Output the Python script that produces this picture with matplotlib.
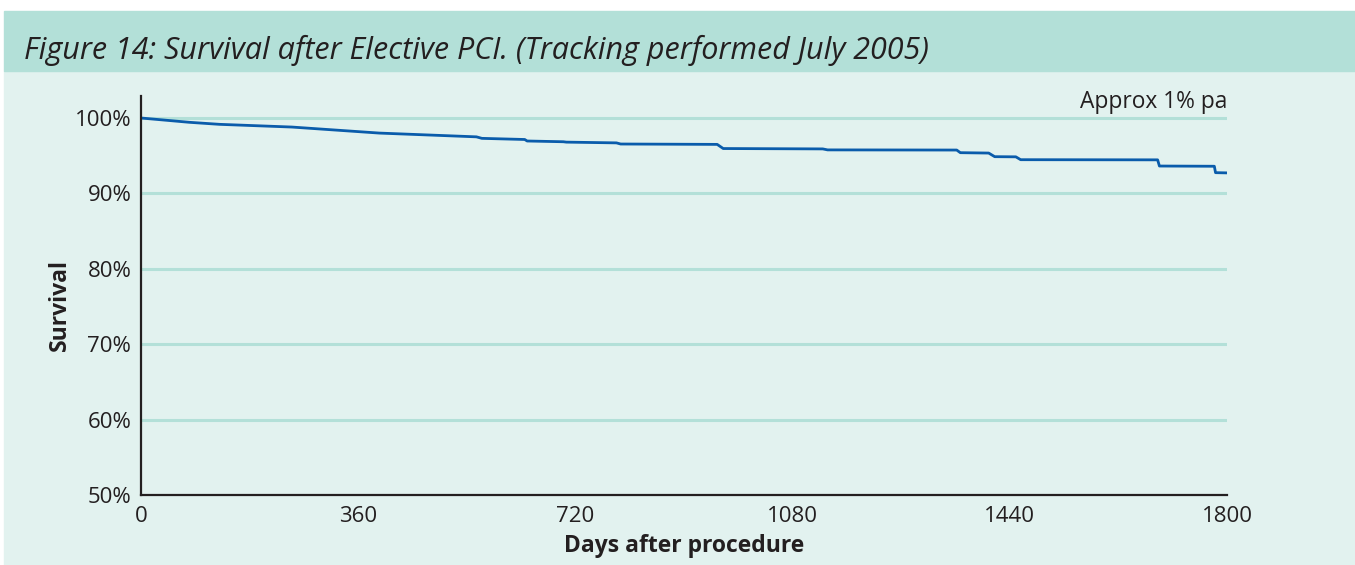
import matplotlib
matplotlib.use("Agg")
import matplotlib.pyplot as plt
from matplotlib.patches import Rectangle

# === DATA ===
days = [0, 80, 130, 250, 395, 556, 565, 636, 640, 700, 705, 788, 795,
        955, 965, 1130, 1138, 1352, 1358, 1405, 1415, 1450, 1458,
        1685, 1688, 1779, 1781, 1800]
survival = [100.0, 99.43, 99.16, 98.8, 98.0, 97.5, 97.3, 97.15, 96.95,
            96.85, 96.8, 96.7, 96.55, 96.5, 95.95, 95.9, 95.77, 95.75,
            95.4, 95.35, 94.87, 94.85, 94.47, 94.45, 93.63, 93.6, 92.75, 92.72]

x_ticks = [0, 360, 720, 1080, 1440, 1800]
y_ticks = [50, 60, 70, 80, 90, 100]
y_tick_labels = ["50%", "60%", "70%", "80%", "90%", "100%"]

TITLE = "Figure 14: Survival after Elective PCI. (Tracking performed July 2005)"
NOTE = "Approx 1% pa"

# === STYLE ===
HEADER = "#b3e0d8"
PANEL = "#e2f2ef"
GRID = "#b3e0d8"
LINE = "#0a5cab"
INK = "#231f20"
plt.rcParams["font.family"] = ["Open Sans", "DejaVu Sans"]

W, H = 1355, 565
fig = plt.figure(figsize=(W / 100, H / 100), dpi=100)
fig.patch.set_facecolor("white")

# background panels
fig.patches.append(Rectangle((4 / W, 0), 1 - 4 / W, 1 - 71 / H,
                             transform=fig.transFigure, color=PANEL, zorder=-2))
fig.patches.append(Rectangle((4 / W, 1 - 71 / H), 1 - 4 / W, 60 / H,
                             transform=fig.transFigure, color=HEADER, zorder=-2))
fig.text(24 / W, 1 - 50 / H, TITLE, style="italic", fontsize=22,
         color=INK, va="center", ha="left")

# axes
ax = fig.add_axes([141 / W, 1 - 495 / H, (1227 - 141) / W, (495 - 96) / H])
ax.set_zorder(1)
ax.set_facecolor("none")
ax.set_xlim(0, 1800)
ax.set_ylim(50, 100 + 22 / 7.54)

for y in y_ticks[1:]:
    ax.axhline(y, color=GRID, lw=2.2, zorder=1)

ax.plot(days, survival, color=LINE, lw=2.0, zorder=3)

ax.set_xticks(x_ticks)
ax.set_yticks(y_ticks)
ax.set_yticklabels(y_tick_labels)
ax.tick_params(axis="both", labelsize=16, colors=INK, length=0)
ax.tick_params(axis="x", pad=8)
ax.tick_params(axis="y", pad=7)

for side in ["top", "right"]:
    ax.spines[side].set_visible(False)
for side in ["left", "bottom"]:
    ax.spines[side].set_color(INK)
    ax.spines[side].set_linewidth(1.6)
    ax.spines[side].set_zorder(4)

ax.text(1800, 100 + 10 / 7.54, NOTE, ha="right", va="baseline",
        fontsize=16.4, color=INK)

fig.text(684 / W, 1 - 546 / H, "Days after procedure", fontweight="bold",
         fontsize=16.5, color=INK, ha="center", va="center")
fig.text(60 / W, 1 - 305 / H, "Survival", fontweight="bold", rotation=90,
         fontsize=16.5, color=INK, ha="center", va="center")

fig.savefig("out.png", dpi=100, facecolor=fig.get_facecolor())
